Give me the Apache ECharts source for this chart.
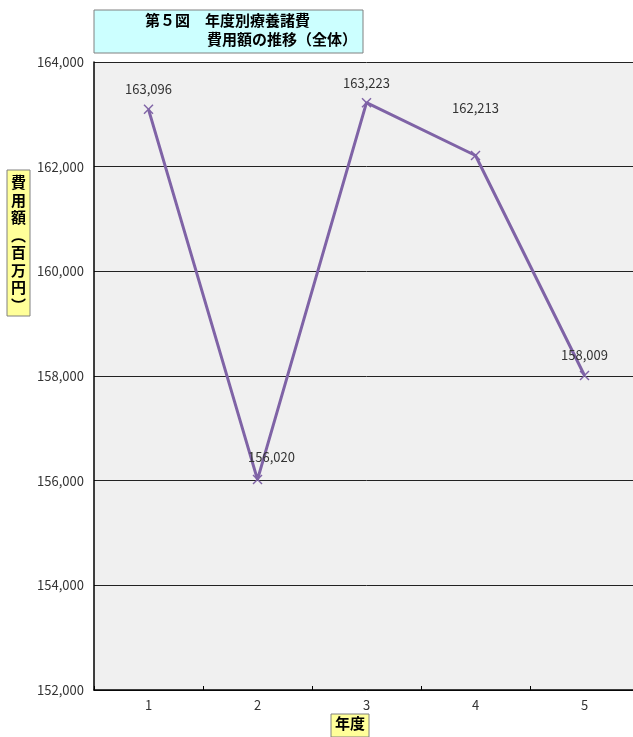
<!DOCTYPE html>
<html>
<head>
<meta charset="utf-8">
<script src="https://cdn.jsdelivr.net/npm/echarts@6/dist/echarts.min.js"></script>
<style>
html, body { margin: 0; padding: 0; background: #fff; overflow: hidden; }
#main { width: 645px; height: 737px; }
</style>
</head>
<body>
<div id="main"></div>
<script>
// 年度別療養諸費 費用額の推移
var years = ['1', '2', '3', '4', '5'];
var costs = [163096, 156020, 163223, 162213, 158009];
// label offsets per point (label placement as in the source)
var labelOffsets = [[0, -4], [14, -6], [0, -3], [0, -31], [0, -4]];

var FONT = '"Noto Sans CJK JP", "DejaVu Sans", sans-serif';
var crossPath = 'path://M1,0L5,4L9,0L10,1L6,5L10,9L9,10L5,6L1,10L0,9L4,5L0,1Z';

var chart = echarts.init(document.getElementById('main'), null, { renderer: 'canvas' });

var option = {
    animation: false,
    backgroundColor: '#ffffff',
    textStyle: { fontFamily: FONT },
    grid: {
        left: 94,
        top: 62,
        width: 545,
        height: 628,
        show: true,
        backgroundColor: '#f0f0f0',
        borderWidth: 0
    },
    xAxis: {
        type: 'category',
        data: years,
        boundaryGap: true,
        axisLine: { show: true, lineStyle: { color: '#000', width: 1.5 } },
        axisTick: { show: true, inside: true, length: 4, lineStyle: { color: '#000' } },
        axisLabel: { color: '#333', fontSize: 13, margin: 9, fontFamily: FONT }
    },
    yAxis: {
        type: 'value',
        min: 152000,
        max: 164000,
        interval: 2000,
        axisLine: { show: true, lineStyle: { color: '#000', width: 1.5 } },
        axisTick: { show: false },
        splitLine: { lineStyle: { color: '#222', width: 1 } },
        axisLabel: {
            color: '#333',
            fontSize: 13,
            margin: 10,
            fontFamily: FONT,
            formatter: function (v) { return v.toLocaleString('en-US'); }
        }
    },
    series: [{
        type: 'line',
        data: costs.map(function (v, i) {
            return {
                value: v,
                label: { offset: labelOffsets[i] }
            };
        }),
        lineStyle: { color: '#7f63a6', width: 3 },
        itemStyle: { color: '#7f63a6' },
        symbol: crossPath,
        symbolSize: 10,
        label: {
            show: true,
            position: 'top',
            color: '#333',
            fontSize: 13,
            fontFamily: FONT,
            formatter: function (p) { return p.value.toLocaleString('en-US'); }
        }
    }],
    graphic: [
        {
            type: 'rect',
            shape: { x: 94, y: 10, width: 269, height: 43 },
            style: { fill: '#ccffff', stroke: '#808080', lineWidth: 1 }
        },
        {
            type: 'text',
            x: 145, y: 13,
            style: { text: '第５図　年度別療養諸費', fill: '#000', font: 'bold 15px ' + FONT }
        },
        {
            type: 'text',
            x: 207, y: 32,
            style: { text: '費用額の推移（全体）', fill: '#000', font: 'bold 15px ' + FONT }
        },
        {
            type: 'rect',
            shape: { x: 7, y: 170, width: 23, height: 146 },
            style: { fill: '#ffff99', stroke: '#808080', lineWidth: 1 }
        },
        {
            type: 'text',
            x: 18.5, y: 174,
            style: {
                text: '費\n用\n額\n︵\n百\n万\n円\n︶',
                font: 'bold 15px ' + FONT,
                fill: '#000',
                align: 'center',
                lineHeight: 17.5
            }
        },
        {
            type: 'rect',
            shape: { x: 331, y: 714, width: 38, height: 23 },
            style: { fill: '#ffff99', stroke: '#808080', lineWidth: 1 }
        },
        {
            type: 'text',
            x: 350, y: 716,
            style: { text: '年度', font: 'bold 15px ' + FONT, fill: '#000', align: 'center' }
        }
    ]
};

chart.setOption(option);
</script>
</body>
</html>
